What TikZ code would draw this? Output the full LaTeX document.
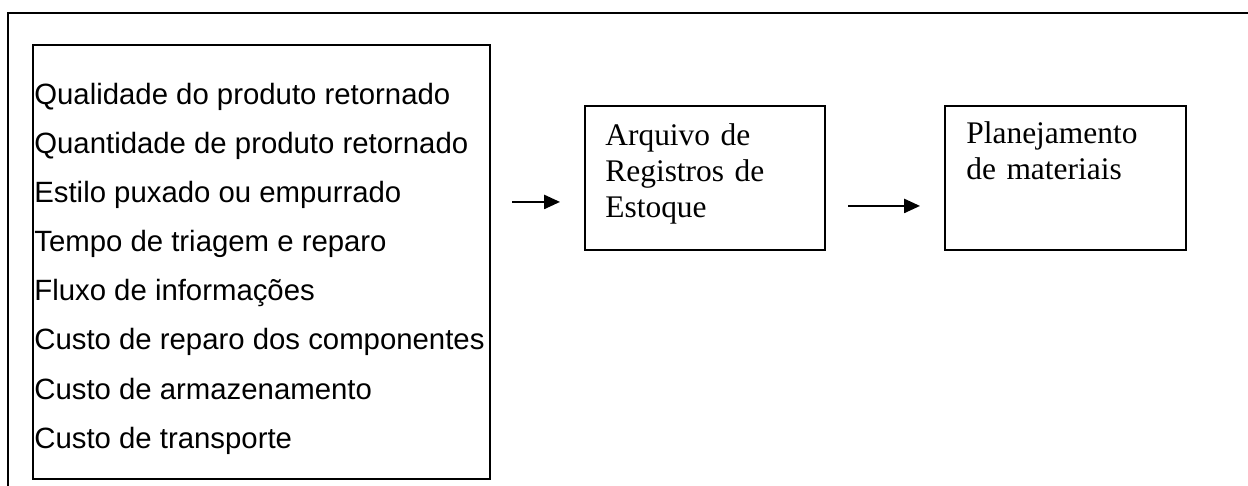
\documentclass[tikz,border=0pt]{standalone}
\usepackage{fontspec}
\setmainfont{Liberation Serif}
\setsansfont{Liberation Sans}
\usetikzlibrary{positioning,arrows.meta}
\tikzstyle{caixa} = [rectangle, draw=black, line width=1.1pt, inner sep=0pt, anchor=north west]
\tikzstyle{seta} = [line width=1.1pt, -{Triangle[length=9pt,width=8pt]}]
\tikzset{
 fator/.style
  = {anchor=base west, inner sep=0pt, font=\sffamily\fontsize{16.7}{20}\selectfont},
 rotulo/.style
  = {anchor=base west, inner sep=0pt, text width=4cm, align=left,
     font=\fontsize{17.9}{20.4}\selectfont},
}

\begin{document}
\begin{tikzpicture}[x=0.02cm, y=-0.02cm]
\useasboundingbox (0,0) rectangle (1248,486);

% Moldura externa (cortada a direita e embaixo)
\begin{scope}
  \clip (0,0) rectangle (1248,486);
  \draw[line width=1.1pt] (8,13) rectangle (1300,540);
\end{scope}

% Fatores
\node[caixa, minimum width=9.14cm, minimum height=8.68cm] (fatores) at (32,44) {};
\foreach \txt [count=\i] in {Qualidade do produto retornado,
    Quantidade de produto retornado, Estilo puxado ou empurrado,
    Tempo de triagem e reparo, Fluxo de informações,
    Custo de reparo dos componentes, Custo de armazenamento,
    Custo de transporte}
  \node[fator] (f\i) at (34, {105+49*(\i-1)}) {\txt};

% Arquivo de registros
\node[caixa, minimum width=4.8cm, minimum height=2.88cm] (arquivo) at (584,105) {};
\node[rotulo] (arqtxt) at (605,146) {Arquivo de\\Registros de\\Estoque};

% Planejamento
\node[caixa, minimum width=4.82cm, minimum height=2.88cm] (plano) at (944,105) {};
\node[rotulo] (platxt) at (966,144) {Planejamento\\de materiais};

% Setas
\draw[seta] ([xshift=-1.44cm, yshift=-0.48cm]arquivo.west) -- ([xshift=-0.48cm, yshift=-0.48cm]arquivo.west);
\draw[seta] ([xshift=-1.92cm, yshift=-0.56cm]plano.west) -- ([xshift=-0.48cm, yshift=-0.56cm]plano.west);

\end{tikzpicture}
\end{document}
